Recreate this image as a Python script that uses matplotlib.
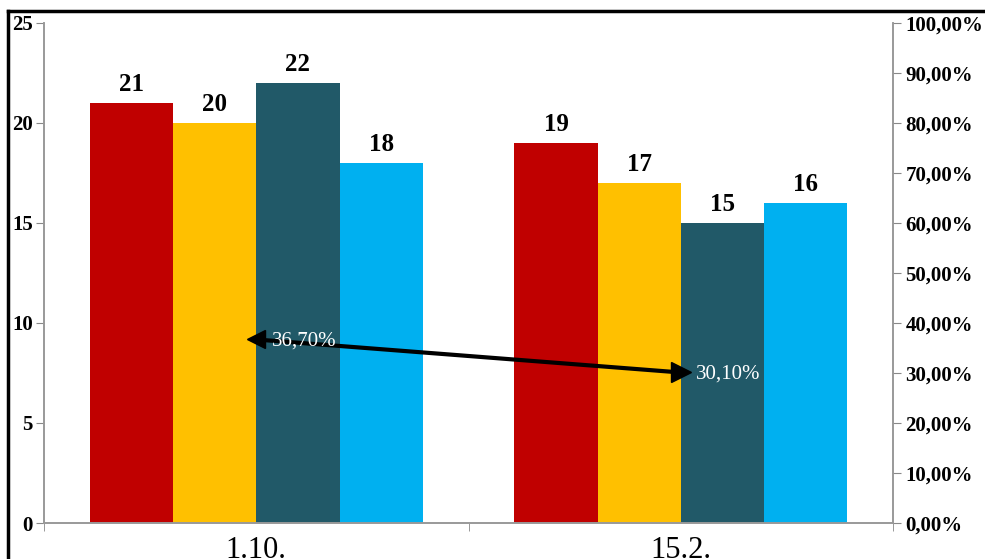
import numpy as np
import matplotlib.pyplot as plt

plt.rcParams['font.family'] = ['Liberation Serif', 'DejaVu Serif']

categories = ["1.10.", "15.2."]
series_values = [
    [21, 19],
    [20, 17],
    [22, 15],
    [18, 16],
]
series_colors = ["#C00000", "#FFC000", "#215968", "#00B0F0"]
share = [0.367, 0.301]
share_labels = ["36,70%", "30,10%"]
left_ticks = [0, 5, 10, 15, 20, 25]
right_ticks = np.arange(0, 1.01, 0.1)

fig = plt.figure(figsize=(9.85, 5.59), dpi=100)
ax = fig.add_axes([0.0447, 0.0644, 0.862, 0.8945])
ax2 = ax.twinx()

x = np.arange(len(categories))
width = 0.196
for i, (vals, col) in enumerate(zip(series_values, series_colors)):
    pos = x + (i - 1.5) * width
    bars = ax.bar(pos, vals, width, color=col, zorder=2)
    for b, v in zip(bars, vals):
        ax.annotate(str(v), (b.get_x() + b.get_width() / 2, v),
                    xytext=(0, 5), textcoords="offset points",
                    ha="center", va="bottom", fontsize=18, fontweight="bold")

ax.set_xlim(-0.5, len(categories) - 0.5)
ax.set_ylim(0, 25)
ax.set_yticks(left_ticks)
ax.set_yticklabels([str(t) for t in left_ticks], fontsize=15, fontweight="bold")
ax.set_xticks(x)
ax.set_xticklabels(categories, fontsize=22)
ax.tick_params(axis="x", length=0, pad=9)
ax.set_xticks([-0.5, 0.5, 1.5], minor=True)
ax.tick_params(axis="x", which="minor", length=6, color="#888888")
ax.tick_params(axis="y", length=6, color="#888888", pad=2)

ax2.set_ylim(0, 1)
ax2.set_yticks(right_ticks)
ax2.set_yticklabels([f"{t * 100:.2f}%".replace(".", ",") for t in right_ticks],
                    fontsize=15, fontweight="bold")
ax2.tick_params(axis="y", length=6, color="#888888", pad=3)

for a in (ax, ax2):
    a.spines["top"].set_visible(False)
    for s in ("left", "right", "bottom"):
        a.spines[s].set_color("#999999")
        a.spines[s].set_linewidth(1.2)

# trend line with triangle start and arrow end
ax2.plot(x, share, color="black", lw=3, zorder=3)
ax2.plot(x[0], share[0], marker="<", ms=13, color="black", zorder=3)
ax2.plot(x[1], share[1], marker=">", ms=15, color="black", zorder=3)
for xi, s, lab in zip(x, share, share_labels):
    ax2.annotate(lab, (xi, s), xytext=(11, -1), textcoords="offset points",
                 ha="left", va="center", color="white", fontsize=15, zorder=4)

# black frame lines at top and left of the figure
fig.add_artist(plt.Line2D([8 / 985, 1], [1 - 11 / 559, 1 - 11 / 559],
                          transform=fig.transFigure, color="black", lw=2.5))
fig.add_artist(plt.Line2D([8 / 985, 8 / 985], [0, 1 - 11 / 559],
                          transform=fig.transFigure, color="black", lw=2.5))

fig.savefig("out.png", dpi=100)
